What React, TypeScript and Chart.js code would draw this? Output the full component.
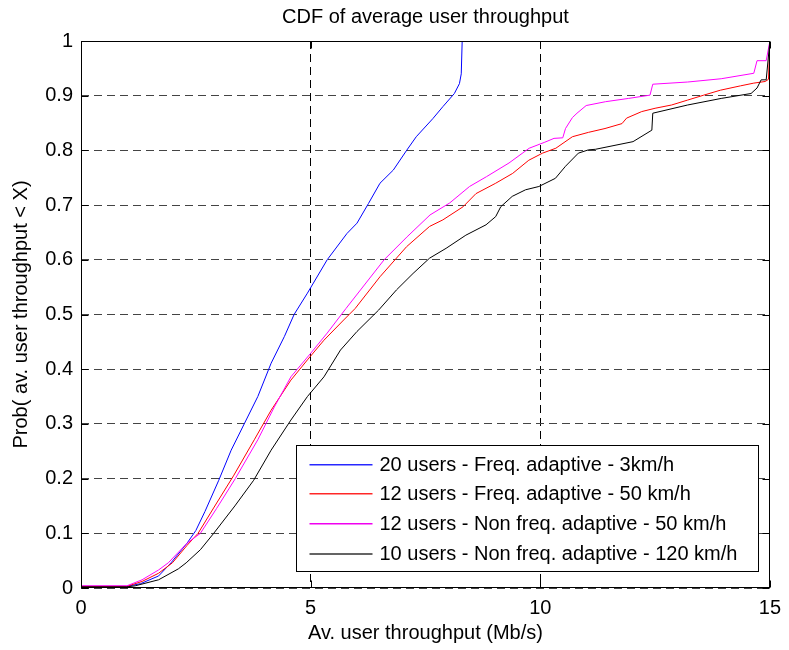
import { useEffect, useRef } from 'react';
import { Chart, registerables } from 'chart.js';

Chart.register(...registerables);

const FONT = '"Liberation Sans", Arial, Helvetica, sans-serif';

const chartTitle = 'CDF of average user throughput';
const xAxisTitle = 'Av. user throughput (Mb/s)';
const yAxisTitle = 'Prob( av. user throughput < X)';

const xTicks = [0, 5, 10, 15];
const yTicks = [0, 0.1, 0.2, 0.3, 0.4, 0.5, 0.6, 0.7, 0.8, 0.9, 1];

const seriesLabels = [
  '20 users - Freq. adaptive - 3km/h',
  '12 users - Freq. adaptive - 50 km/h',
  '12 users - Non freq. adaptive - 50 km/h',
  '10 users - Non freq. adaptive - 120 km/h',
];
const seriesColors = ['rgb(0,0,255)', 'rgb(255,0,0)', 'rgb(255,0,255)', 'rgb(0,0,0)'];
const legendColors = ['rgb(40,40,255)', 'rgb(255,40,40)', 'rgb(240,0,240)', 'rgb(100,100,100)'];

const blueX = [0, 1.0, 1.3, 1.69, 1.96, 2.31, 2.5, 2.7, 3.0, 3.27, 3.56, 3.85, 4.14, 4.43, 4.64, 4.93, 5.36, 5.79, 6.01, 6.26, 6.51, 6.8, 7.09, 7.3, 7.66, 7.88, 8.13, 8.24, 8.28, 8.3, 15];
const blueY = [0.003, 0.003, 0.008, 0.022, 0.046, 0.082, 0.105, 0.14, 0.197, 0.252, 0.301, 0.35, 0.411, 0.46, 0.5, 0.539, 0.6, 0.648, 0.667, 0.703, 0.74, 0.764, 0.8, 0.825, 0.858, 0.88, 0.904, 0.922, 0.94, 1.0, 1.0];

const redX = [0, 1.0, 1.33, 1.69, 1.99, 2.31, 2.55, 2.9, 3.32, 3.78, 4.14, 4.57, 4.93, 5.29, 5.72, 5.97, 6.51, 7.09, 7.59, 7.88, 8.32, 8.6, 9.03, 9.4, 9.75, 10.05, 10.34, 10.7, 11.05, 11.41, 11.78, 11.88, 12.21, 12.5, 12.86, 13.21, 13.56, 13.92, 14.36, 14.65, 14.9, 14.97, 15];
const redY = [0.003, 0.003, 0.012, 0.027, 0.046, 0.078, 0.1, 0.148, 0.205, 0.272, 0.325, 0.38, 0.417, 0.453, 0.49, 0.511, 0.569, 0.624, 0.661, 0.673, 0.697, 0.721, 0.74, 0.758, 0.782, 0.795, 0.804, 0.825, 0.833, 0.84, 0.849, 0.859, 0.871, 0.877, 0.883, 0.892, 0.901, 0.91, 0.918, 0.923, 0.926, 0.93, 1.0];

const magentaX = [0, 1.0, 1.33, 1.69, 1.9, 2.31, 2.6, 2.95, 3.36, 3.85, 4.21, 4.57, 5.0, 5.36, 5.77, 6.6, 7.1, 7.6, 8.03, 8.46, 8.83, 9.32, 9.76, 10.1, 10.3, 10.49, 10.55, 10.7, 10.8, 11.0, 11.42, 11.92, 12.39, 12.45, 13.21, 13.94, 14.65, 14.72, 14.92, 15];
const magentaY = [0.004, 0.004, 0.015, 0.033, 0.046, 0.082, 0.1, 0.145, 0.2, 0.271, 0.331, 0.386, 0.429, 0.466, 0.511, 0.6, 0.642, 0.682, 0.704, 0.734, 0.752, 0.777, 0.804, 0.815, 0.822, 0.823, 0.84, 0.86, 0.868, 0.882, 0.889, 0.895, 0.901, 0.921, 0.925, 0.931, 0.941, 0.964, 0.964, 1.0];

const blackX = [0, 1.0, 1.18, 1.69, 2.12, 2.29, 2.6, 2.89, 3.35, 3.76, 4.14, 4.57, 4.93, 5.29, 5.65, 6.01, 6.48, 6.87, 7.23, 7.59, 7.95, 8.38, 8.82, 9.03, 9.14, 9.39, 9.68, 9.97, 10.33, 10.55, 10.83, 11.05, 11.2, 12.02, 12.43, 12.45, 13.21, 13.94, 14.59, 14.72, 14.81, 14.92, 15];
const blackY = [0.002, 0.002, 0.004, 0.015, 0.035, 0.046, 0.07, 0.1, 0.15, 0.197, 0.252, 0.307, 0.35, 0.386, 0.435, 0.469, 0.508, 0.545, 0.575, 0.603, 0.621, 0.645, 0.664, 0.679, 0.697, 0.716, 0.728, 0.734, 0.749, 0.771, 0.795, 0.801, 0.802, 0.816, 0.837, 0.868, 0.883, 0.895, 0.904, 0.914, 0.929, 0.929, 1.0];

const seriesX = [blueX, redX, magentaX, blackX];
const seriesY = [blueY, redY, magentaY, blackY];

const toPoints = (xs: number[], ys: number[]) => xs.map((x, i) => ({ x, y: ys[i] }));

const framePlugin = {
  id: 'matlabFrame',
  afterDraw(chart: any) {
    const ctx: CanvasRenderingContext2D = chart.ctx;
    const a = chart.chartArea;
    const scales = chart.scales;
    const L = Math.round(a.left) + 0.5;
    const R = Math.round(a.right) - 0.5;
    const T = Math.round(a.top) + 0.5;
    const B = Math.round(a.bottom) - 0.5;
    ctx.save();
    ctx.setLineDash([]);
    ctx.strokeStyle = '#000000';
    ctx.lineWidth = 1;
    ctx.strokeRect(L, T, R - L, B - T);
    const tl = 7;
    ctx.beginPath();
    xTicks.forEach((v) => {
      const px = Math.round(scales.x.getPixelForValue(v)) + 0.5;
      ctx.moveTo(px, B);
      ctx.lineTo(px, B - tl);
      ctx.moveTo(px, T);
      ctx.lineTo(px, T + tl);
    });
    yTicks.forEach((v) => {
      const py = Math.round(scales.y.getPixelForValue(v)) + 0.5;
      ctx.moveTo(L, py);
      ctx.lineTo(L + tl, py);
      ctx.moveTo(R, py);
      ctx.lineTo(R - tl, py);
    });
    ctx.stroke();
    ctx.restore();

    // legend box
    const boxW = 462;
    const boxH = 126;
    const bx = Math.round(a.right) - 12 - boxW + 0.5;
    const by = Math.round(a.bottom) - 17 - boxH + 0.5;
    ctx.save();
    ctx.setLineDash([]);
    ctx.fillStyle = '#ffffff';
    ctx.fillRect(bx, by, boxW, boxH);
    ctx.strokeStyle = '#000000';
    ctx.lineWidth = 1;
    ctx.strokeRect(bx, by, boxW, boxH);
    ctx.restore();

    seriesLabels.forEach((lab, i) => {
      const ry = Math.round(by + 18 + i * 29.8);
      ctx.save();
      ctx.setLineDash([]);
      ctx.fillStyle = legendColors[i];
      ctx.fillRect(bx + 13, ry, 63, i === 3 ? 2 : 1.5);
      ctx.restore();
      ctx.save();
      ctx.font = `20px ${FONT}`;
      ctx.textBaseline = 'middle';
      ctx.textAlign = 'left';
      ctx.fillStyle = '#000000';
      ctx.fillText(lab, bx + 83, ry + 1);
      ctx.restore();
    });
  },
};

export default function App() {
  const ref = useRef<HTMLCanvasElement | null>(null);

  useEffect(() => {
    if (!ref.current) return;
    const datasets = seriesLabels.map((label, i) => ({
      label,
      data: toPoints(seriesX[i], seriesY[i]),
      borderColor: seriesColors[i],
      backgroundColor: seriesColors[i],
      borderWidth: 1,
      pointRadius: 0,
      tension: 0,
      fill: false,
      order: 3 - i,
    }));
    const chart = new Chart(ref.current, {
      type: 'line',
      data: { datasets },
      options: {
        animation: false,
        responsive: false,
        maintainAspectRatio: false,
        layout: { padding: { left: 0, right: 13, top: 0, bottom: 0 } },
        plugins: {
          legend: { display: false },
          tooltip: { enabled: false },
          title: {
            display: true,
            text: chartTitle,
            fullSize: false,
            color: '#000',
            font: { family: FONT, size: 20, weight: 'normal' },
            padding: { top: 5, bottom: 12 },
          },
        },
        scales: {
          x: {
            type: 'linear',
            min: 0,
            max: 15,
            afterBuildTicks: (s: any) => {
              s.ticks = xTicks.map((v) => ({ value: v }));
            },
            afterFit: (s: any) => {
              s.height = 62;
            },
            ticks: {
              color: '#000',
              font: { family: FONT, size: 20 },
              padding: 8,
              maxRotation: 0,
              callback: (v: any) => String(v),
            },
            grid: { color: '#000', lineWidth: 1, drawTicks: false },
            border: { display: false, dash: [8, 5] },
            title: {
              display: true,
              text: xAxisTitle,
              color: '#000',
              font: { family: FONT, size: 20 },
              padding: { top: 0, bottom: 5 },
            },
          },
          y: {
            type: 'linear',
            min: 0,
            max: 1,
            afterBuildTicks: (s: any) => {
              s.ticks = yTicks.map((v) => ({ value: v }));
            },
            afterFit: (s: any) => {
              s.width = 81;
            },
            ticks: {
              color: '#000',
              font: { family: FONT, size: 20 },
              padding: 8,
              callback: (v: any) => String(Math.round(v * 10) / 10),
            },
            grid: { color: '#444', lineWidth: 1, drawTicks: false },
            border: { display: false, dash: [8, 5] },
            title: {
              display: true,
              text: yAxisTitle,
              color: '#000',
              font: { family: FONT, size: 20 },
              padding: { top: 9, bottom: 0 },
            },
          },
        },
      },
      plugins: [framePlugin],
    } as any);
    return () => chart.destroy();
  }, []);

  return (
    <div style={{ position: 'absolute', left: 0, top: 0, width: 789, height: 650, background: '#fff' }}>
      <canvas ref={ref} width={789} height={650} style={{ display: 'block' }} />
    </div>
  );
}
